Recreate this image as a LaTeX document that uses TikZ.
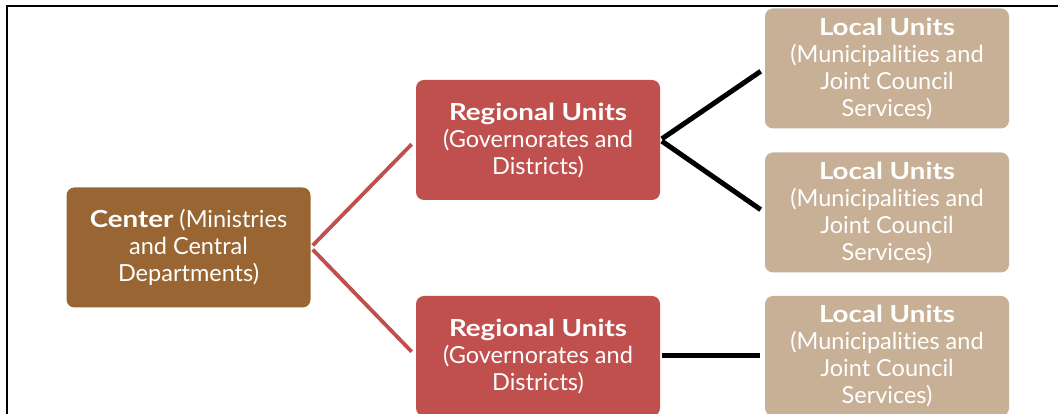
\documentclass[tikz,border=0pt]{standalone}
\usepackage{fontspec}
\setmainfont{Lato}[Ligatures=NoCommon, BoldFeatures={FakeStretch=1.18}]
\definecolor{centerbrown}{RGB}{153,102,51}
\definecolor{regionred}{RGB}{192,80,77}
\definecolor{localtan}{RGB}{200,176,150}
\tikzset{
  unitbox/.style={rounded corners=8pt, minimum width=244pt, minimum height=120pt,
    inner sep=0pt, text=white, align=center, font=\fontsize{23.5}{27}\selectfont},
  centerbox/.style={unitbox, fill=centerbrown},
  regionbox/.style={unitbox, fill=regionred},
  localbox/.style={unitbox, fill=localtan},
  redlink/.style={draw=regionred, line width=3.8pt, shorten <=3pt, shorten >=6pt},
  blacklink/.style={draw=black, line width=5pt, shorten <=2pt, shorten >=5pt}
}
\begin{document}
\begin{tikzpicture}[x=1pt,y=1pt]
\pgfmathsetmacro{\kc}{188.5}
\pgfmathsetmacro{\kr}{538}
\pgfmathsetmacro{\kl}{887}
\clip(0,0) rectangle (1058,414);
\fill[white](0,0) rectangle (1058,414);
%frame
\draw[line width=2pt](7,0)--(7,408)--(1058,408);
%center
\node[centerbox] (center) at (\kc,166.5) {\textbf{Center} (Ministries\\and Central\\Departments)};
%regional units
\node[regionbox] (regA) at (\kr,274) {\textbf{Regional Units}\\(Governorates and\\Districts)};
\node[regionbox] (regB) at (\kr,58) {\textbf{Regional Units}\\(Governorates and\\Districts)};
%local units
\node[localbox] (locA) at (\kl,345.5) {\textbf{Local Units}\\(Municipalities and\\Joint Council\\Services)};
\node[localbox] (locB) at (\kl,201.5) {\textbf{Local Units}\\(Municipalities and\\Joint Council\\Services)};
\node[localbox] (locC) at (\kl,58) {\textbf{Local Units}\\(Municipalities and\\Joint Council\\Services)};
%links
\draw[redlink](center.east)--(regA.west);
\draw[redlink](center.east)--(regB.west);
\draw[blacklink](regA.east)--(locA.west);
\draw[blacklink](regA.east)--(locB.west);
\draw[blacklink](regB.east)--(locC.west);
\end{tikzpicture}
\end{document}
